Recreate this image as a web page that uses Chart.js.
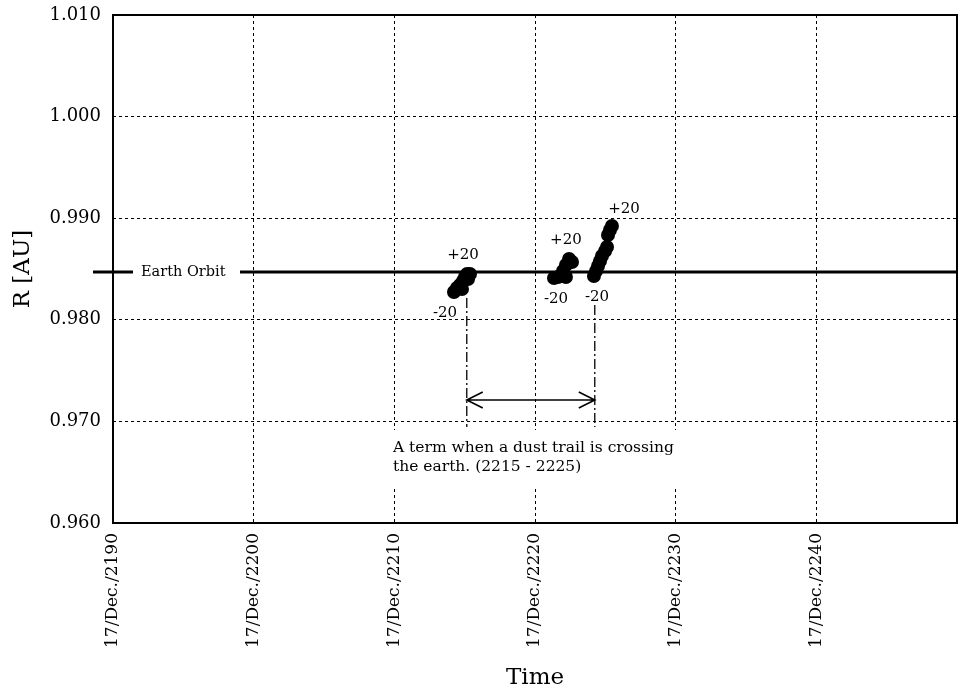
<!DOCTYPE html>
<html>
<head>
<meta charset="utf-8">
<script src="https://cdn.jsdelivr.net/npm/chart.js@4.4.1/dist/chart.umd.min.js"></script>
<style>
  html, body { margin: 0; padding: 0; background: #fff; overflow: hidden; }
  #wrap { width: 958px; height: 690px; }
  canvas { display: block; }
</style>
</head>
<body>
<div id="wrap"><canvas id="rChart" width="958" height="690"></canvas></div>
<script>
// Jahreswerte (x) und Abstand R [AU] (y) der drei Punktgruppen
var group1Years = [2214.24, 2214.45, 2214.67, 2214.81, 2214.88, 2215.02, 2215.17, 2215.38, 2215.24];
var group1R     = [0.98274, 0.98313, 0.98343, 0.98303, 0.98382, 0.98421, 0.98451, 0.98451, 0.98402];

var group2Years = [2221.35, 2221.63, 2221.92, 2222.20, 2221.99, 2222.20, 2222.42, 2222.63];
var group2R     = [0.98411, 0.98421, 0.98431, 0.98421, 0.98480, 0.98539, 0.98598, 0.98569];

var group3Years = [2224.19, 2224.34, 2224.48, 2224.62, 2224.76, 2224.98, 2225.12, 2225.19, 2225.33, 2225.47];
var group3R     = [0.98431, 0.98480, 0.98530, 0.98579, 0.98628, 0.98677, 0.98717, 0.98835, 0.98884, 0.98923];

var earthOrbitR = 0.9847;
var termStart = 2215.15;
var termEnd = 2224.25;

var xTickYears = [2190, 2200, 2210, 2220, 2230, 2240];
var yTickValues = [0.960, 0.970, 0.980, 0.990, 1.000, 1.010];

// Beschriftungen -20 / +20 an den Gruppen
var offsetLabels = ['-20', '+20', '-20', '+20', '-20', '+20'];
var offsetLabelYears = [2213.60, 2214.88, 2221.49, 2222.20, 2224.41, 2226.33];
var offsetLabelR = [0.98067, 0.98638, 0.98205, 0.98785, 0.98224, 0.99091];

var termText = ['A term when a dust trail is crossing', 'the earth. (2215 - 2225)'];

function toPoints(xs, ys) {
    return xs.map(function(x, i) { return { x: x, y: ys[i] }; });
}

Chart.defaults.font.family = '"DejaVu Serif", "Liberation Serif", serif';
Chart.defaults.color = '#000';

var annotationPlugin = {
    id: 'annotations',
    beforeDatasetsDraw: function(chart) {
        var ctx = chart.ctx;
        var xs = chart.scales.x, ys = chart.scales.y;
        var area = chart.chartArea;
        ctx.save();

        // weisser Kasten hinter dem Text
        ctx.fillStyle = '#fff';
        ctx.fillRect(388, 430, 294, 57);
        ctx.fillStyle = '#000';
        ctx.font = '15.5px "DejaVu Serif", serif';
        ctx.textBaseline = 'alphabetic';
        ctx.fillText(termText[0], 393, 452);
        ctx.fillText(termText[1], 393, 471);

        // Erdbahn
        var yE = ys.getPixelForValue(earthOrbitR);
        ctx.strokeStyle = '#000';
        ctx.lineWidth = 3;
        ctx.beginPath();
        ctx.moveTo(area.left - 20, yE);
        ctx.lineTo(area.left + 20, yE);
        ctx.moveTo(area.left + 127, yE);
        ctx.lineTo(area.right, yE);
        ctx.stroke();
        ctx.font = '14.5px "DejaVu Serif", serif';
        ctx.textBaseline = 'middle';
        ctx.fillText('Earth Orbit', area.left + 28, yE);

        // Strich-Punkt Linien
        ctx.lineWidth = 1.3;
        ctx.setLineDash([10, 3, 2, 3]);
        ctx.beginPath();
        ctx.moveTo(xs.getPixelForValue(termStart), ys.getPixelForValue(0.98215));
        ctx.lineTo(xs.getPixelForValue(termStart), ys.getPixelForValue(0.96945));
        ctx.moveTo(xs.getPixelForValue(termEnd), ys.getPixelForValue(0.98146));
        ctx.lineTo(xs.getPixelForValue(termEnd), ys.getPixelForValue(0.96945));
        ctx.stroke();
        ctx.setLineDash([]);

        // Doppelpfeil
        var ya = ys.getPixelForValue(0.97211);
        var x1 = xs.getPixelForValue(termStart), x2 = xs.getPixelForValue(termEnd);
        ctx.lineWidth = 1.6;
        ctx.beginPath();
        ctx.moveTo(x1, ya); ctx.lineTo(x2, ya);
        ctx.moveTo(x1 + 16, ya - 8); ctx.lineTo(x1, ya); ctx.lineTo(x1 + 16, ya + 8);
        ctx.moveTo(x2 - 16, ya - 8); ctx.lineTo(x2, ya); ctx.lineTo(x2 - 16, ya + 8);
        ctx.stroke();

        // -20 / +20
        ctx.font = '15px "DejaVu Serif", serif';
        ctx.textAlign = 'center';
        ctx.textBaseline = 'middle';
        offsetLabels.forEach(function(t, i) {
            ctx.fillText(t, xs.getPixelForValue(offsetLabelYears[i]), ys.getPixelForValue(offsetLabelR[i]));
        });
        ctx.restore();
    },
    afterDraw: function(chart) {
        var ctx = chart.ctx, a = chart.chartArea;
        ctx.save();
        ctx.strokeStyle = '#000';
        ctx.lineWidth = 2;
        ctx.strokeRect(a.left, a.top, a.right - a.left, a.bottom - a.top);
        ctx.restore();
    }
};

var pointStyle = {
    backgroundColor: '#000',
    borderWidth: 0,
    pointRadius: 7,
    showLine: false
};

var ctx = document.getElementById('rChart').getContext('2d');
var chart = new Chart(ctx, {
    type: 'scatter',
    data: {
        datasets: [
            Object.assign({ label: 'g1', data: toPoints(group1Years, group1R) }, pointStyle),
            Object.assign({ label: 'g2', data: toPoints(group2Years, group2R) }, pointStyle),
            Object.assign({ label: 'g3', data: toPoints(group3Years, group3R) }, pointStyle)
        ]
    },
    options: {
        responsive: false,
        animation: false,
        layout: { autoPadding: false, padding: { top: 15, right: 1, left: 0, bottom: 0 } },
        plugins: {
            legend: { display: false },
            tooltip: { enabled: false }
        },
        scales: {
            x: {
                type: 'linear',
                min: 2190,
                max: 2250,
                afterBuildTicks: function(scale) {
                    scale.ticks = xTickYears.concat([2250]).map(function(v) { return { value: v }; });
                },
                afterFit: function(scale) {
                    scale.height = 167;
                    scale.paddingLeft = 0;
                    scale.paddingRight = 0;
                },
                ticks: {
                    minRotation: 90,
                    maxRotation: 90,
                    padding: 10,
                    font: { size: 17 },
                    callback: function(v) {
                        return xTickYears.indexOf(v) >= 0 ? '17/Dec./' + v : '';
                    }
                },
                grid: { color: '#000', lineWidth: 1, drawTicks: false },
                border: { display: false, dash: [3, 3] },
                title: { display: true, text: 'Time', font: { size: 23 }, padding: { top: 0, bottom: -2 } }
            },
            y: {
                min: 0.960,
                max: 1.010,
                afterBuildTicks: function(scale) {
                    scale.ticks = yTickValues.map(function(v) { return { value: v }; });
                },
                afterFit: function(scale) {
                    scale.width = 113;
                    scale.paddingTop = 0;
                    scale.paddingBottom = 0;
                },
                ticks: {
                    padding: 12,
                    font: { size: 18 },
                    callback: function(v) { return v.toFixed(3); }
                },
                grid: { color: '#000', lineWidth: 1, drawTicks: false },
                border: { display: false, dash: [3, 3] },
                title: { display: true, text: 'R [AU]', font: { size: 23 }, padding: { top: 9, bottom: 0 } }
            }
        }
    },
    plugins: [annotationPlugin]
});
</script>
</body>
</html>
